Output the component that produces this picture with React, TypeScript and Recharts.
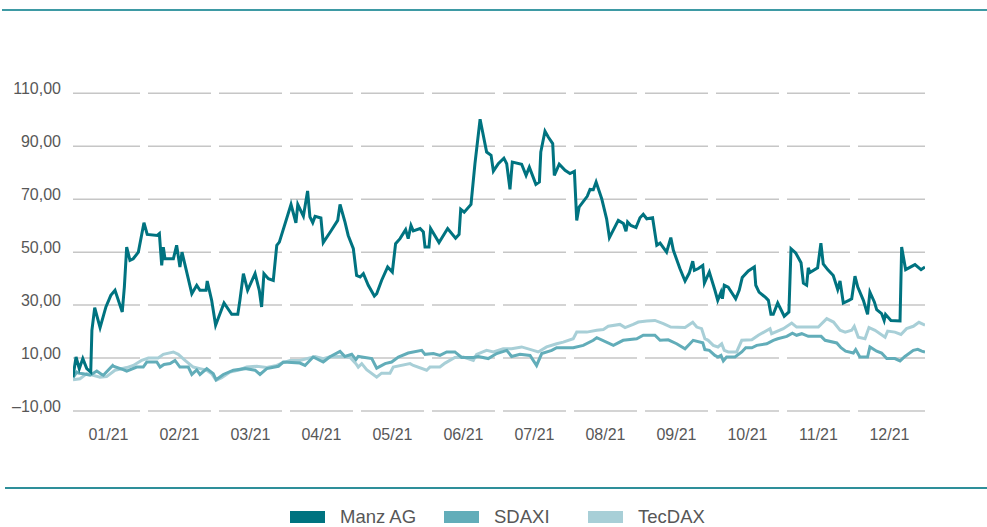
import React from 'react';
import { LineChart, Line, XAxis, YAxis, CartesianGrid } from 'recharts';

// ---- data ----
const monthLabels = ['01/21', '02/21', '03/21', '04/21', '05/21', '06/21', '07/21', '08/21', '09/21', '10/21', '11/21', '12/21'];
const yTicks = [-10, 10, 30, 50, 70, 90, 110];

// day of year (0..365) and indexed performance value
const manzDays = [0, 1.3, 2.7, 4.2, 5.9, 7.6, 8.1, 9.3, 11.6, 14.1, 16.2, 18.0, 21.1, 22.0, 23.0, 24.4, 25.8, 28.0, 30.4, 31.8, 36.1, 37.0, 38.0, 38.7, 39.4, 43.0, 44.4, 45.8, 46.7, 50.9, 53.0, 54.4, 57.0, 57.5, 59.4, 61.1, 64.7, 68.0, 70.6, 71.5, 73.0, 74.8, 78.0, 79.8, 80.8, 81.8, 83.7, 85.8, 87.3, 88.4, 93.4, 95.5, 96.3, 98.7, 100.5, 101.5, 102.7, 103.7, 106.2, 107.2, 110.5, 113.4, 114.4, 116.5, 117.9, 120.1, 121.5, 123.0, 124.4, 126.5, 129.1, 130.1, 132.2, 134.8, 136.8, 138.2, 140.1, 142.5, 143.6, 144.8, 145.8, 148.7, 150.1, 150.8, 152.5, 153.2, 156.8, 160.5, 163.9, 165.4, 166.1, 167.6, 170.5, 172.2, 174.4, 177.2, 179.1, 180.1, 182.2, 184.6, 185.8, 187.2, 188.2, 192.2, 194.1, 195.5, 198.3, 199.8, 200.4, 202.2, 203.6, 205.5, 206.2, 208.3, 210.8, 212.9, 214.8, 215.8, 216.8, 220.3, 221.5, 222.9, 224.1, 226.5, 228.6, 229.8, 233.6, 235.8, 236.9, 237.6, 239.0, 241.2, 242.9, 244.3, 245.8, 248.3, 250.1, 251.5, 254.3, 256.1, 257.2, 260.0, 262.2, 264.0, 265.5, 266.2, 267.9, 269.8, 270.5, 272.6, 275.0, 276.2, 277.6, 278.2, 279.0, 280.7, 283.9, 285.4, 286.7, 289.3, 291.9, 292.5, 293.9, 296.8, 297.9, 299.0, 300.0, 301.9, 304.7, 306.7, 307.6, 309.6, 311.9, 312.9, 314.3, 315.0, 315.7, 319.0, 320.4, 321.4, 323.3, 325.7, 327.6, 328.6, 330.0, 332.4, 333.6, 335.0, 336.2, 338.6, 340.4, 341.4, 343.3, 344.3, 346.4, 347.5, 348.1, 350.4, 354.3, 355.0, 356.7, 360.7, 363.3, 365.0];
const manzValues = [2.8, 10.4, 6, 9.8, 6, 4.7, 20.5, 29, 21.5, 29.3, 33.7, 35.6, 27.4, 36.8, 51.9, 46.9, 47.5, 50, 61.1, 56.7, 56.3, 57, 45, 51.9, 47.5, 47.5, 52.6, 44.4, 50, 34.3, 37.5, 35.6, 35.6, 39.1, 31.8, 22.4, 30.8, 26.5, 26.5, 31.8, 41.9, 35.6, 41.9, 35.6, 29.3, 41.9, 40, 39.3, 52.6, 53.8, 68, 61.1, 68, 63.6, 73.1, 63.3, 61.1, 63.5, 62.9, 53.6, 58, 62, 68, 61.4, 56.3, 51.3, 41.2, 40.6, 41.9, 37.5, 33.4, 34.3, 39.3, 44.4, 42.5, 53.2, 55.1, 58.5, 55.1, 60.1, 58, 58.9, 57.6, 51.9, 51.9, 58.9, 53.6, 58.9, 55.3, 56.7, 66.2, 65.1, 68, 83.4, 100.2, 87.8, 86.6, 80.6, 83.4, 85.5, 83.4, 73.7, 84, 83.2, 79, 82.1, 75.6, 76.5, 87.8, 95.7, 93.5, 91, 79, 83.2, 80.9, 79.7, 80.5, 62, 67, 71.1, 73.7, 73.6, 76.5, 70.2, 62.6, 55.5, 62, 60.8, 57.9, 61.4, 60.1, 59.3, 63, 64.3, 62.6, 63, 52.6, 53.4, 50, 55.5, 50.7, 43.8, 39.1, 42.1, 46.6, 43.1, 43.8, 45, 38.3, 42.5, 35.6, 31.8, 34.9, 32.4, 37.5, 36.8, 32.4, 35.6, 40.4, 42.9, 44.4, 37.5, 34.9, 32.8, 31.8, 26.5, 26.5, 30.8, 25.8, 27.4, 51.3, 49.7, 46, 38.3, 37.5, 44.1, 42.3, 44.1, 53.4, 45.6, 43.4, 41.2, 35.9, 39.1, 30.8, 31.8, 32.4, 40.9, 36.8, 31.8, 26.5, 34.9, 31.2, 28.3, 26.8, 24.2, 26.5, 24.2, 24, 51.9, 43.4, 45.3, 43.4, 44.4];

const sdaxDays = [0, 1.6, 2.3, 4.4, 7.3, 10.2, 12.3, 13.0, 17.0, 17.3, 21.5, 23.0, 27.3, 30.1, 31.6, 35.9, 37.3, 39.0, 41.6, 43.7, 45.8, 49.4, 50.9, 53.0, 54.4, 57.3, 60.1, 61.3, 64.4, 68.7, 73.7, 78.0, 80.1, 83.0, 88.0, 90.1, 97.2, 99.4, 102.9, 107.2, 110.1, 114.4, 116.5, 119.4, 121.2, 122.2, 128.0, 130.1, 133.7, 136.5, 139.4, 143.6, 149.4, 150.8, 154.4, 157.2, 160.1, 163.6, 166.5, 171.5, 173.6, 177.9, 181.5, 185.8, 187.9, 191.5, 195.8, 198.6, 200.8, 205.1, 207.2, 214.3, 218.6, 222.9, 224.4, 231.5, 235.7, 241.5, 244.3, 249.3, 251.5, 255.0, 258.6, 262.2, 265.7, 269.8, 270.7, 272.6, 275.0, 276.3, 277.6, 278.6, 280.0, 283.6, 286.5, 288.2, 290.8, 292.9, 297.2, 300.0, 301.9, 305.8, 308.2, 310.0, 312.2, 315.0, 320.5, 322.2, 327.2, 329.0, 331.0, 334.3, 335.3, 337.1, 340.4, 341.4, 344.3, 346.4, 348.6, 352.1, 354.3, 356.4, 360.0, 361.9, 363.6, 365.0];
const sdaxValues = [2.6, 4.7, 4.3, 4.1, 3.5, 5.1, 3.8, 3.5, 7.2, 6.9, 5.6, 5.1, 6.6, 6.6, 8.5, 8.5, 6.6, 7.6, 7.9, 9.1, 6.6, 6.6, 3.8, 5.5, 3.8, 6, 4.1, 1.8, 3.8, 5.4, 6, 5.4, 3.8, 6, 6.9, 8.5, 8.1, 7.2, 10.4, 8.5, 10.5, 12.5, 10.6, 11.4, 9.4, 10.6, 9.8, 6.2, 7.9, 8.5, 10.4, 11.9, 12.9, 11.4, 11.7, 11, 12.3, 12.3, 10.2, 10.2, 10.6, 9.8, 11.7, 12.9, 10.6, 11.4, 11, 7.2, 11.7, 12.9, 13.9, 13.9, 14.8, 16.7, 17.7, 14.8, 16.7, 17.3, 18.6, 18.6, 16.7, 16.9, 15.4, 13.5, 16.7, 15.8, 13.2, 12.9, 11, 10.4, 11, 8.9, 10.4, 10.4, 12.3, 13.9, 13.9, 14.8, 15.4, 16.7, 17.3, 18.2, 19.4, 18.6, 19.2, 18.2, 18.2, 16.7, 15.7, 13.9, 12.6, 11.9, 13.2, 10.4, 10.4, 14.2, 12.6, 11.9, 9.8, 9.8, 8.9, 10.6, 12.9, 13.3, 12.6, 12.3];

const tecDays = [0, 3.0, 5.9, 11.6, 14.4, 18.0, 23.0, 25.8, 29.4, 32.3, 36.5, 38.7, 43.0, 45.1, 48.0, 51.5, 54.4, 57.3, 59.4, 61.3, 63.7, 67.3, 71.5, 74.4, 78.7, 83.0, 87.3, 89.4, 93.0, 97.2, 103.7, 107.2, 110.1, 115.8, 118.7, 121.2, 122.2, 123.7, 125.8, 130.1, 132.2, 135.8, 137.2, 144.4, 145.8, 151.5, 152.9, 157.2, 159.4, 163.6, 167.2, 171.5, 172.9, 177.2, 180.1, 184.3, 187.9, 192.2, 197.2, 199.3, 202.9, 207.2, 210.0, 214.3, 215.8, 220.1, 224.4, 227.2, 229.3, 234.3, 236.5, 240.0, 242.2, 245.8, 249.3, 252.9, 256.1, 262.2, 265.5, 267.2, 269.3, 270.7, 272.1, 274.3, 276.3, 277.9, 279.0, 280.7, 284.3, 286.5, 290.8, 293.6, 298.6, 299.3, 304.3, 307.9, 310.0, 319.3, 322.9, 325.8, 328.6, 330.8, 333.6, 334.7, 336.4, 339.3, 341.0, 343.6, 347.9, 349.0, 352.1, 354.7, 357.1, 360.0, 362.4, 365.0];
const tecValues = [1.8, 2.2, 4.1, 2.8, 3, 5.4, 6.4, 7.2, 9.1, 10, 10, 11.4, 12.3, 11.4, 9.1, 6.6, 6, 5.4, 4.1, 1.6, 2.6, 4.7, 5.6, 6.6, 6.9, 6.4, 7.2, 8.1, 9.1, 9.1, 10.6, 9.8, 10.5, 10.6, 10.2, 7.9, 6.6, 7.9, 5.6, 2.8, 4.3, 4.3, 6.6, 7.9, 7.2, 5.4, 6.6, 6.6, 8.1, 10.2, 10.4, 9.1, 11.4, 12.9, 12.3, 13.5, 13.5, 14.2, 12.9, 12.3, 14.2, 15.4, 16, 17.3, 19.8, 19.8, 20.5, 20.8, 22, 22.7, 21.5, 22.7, 23.6, 24, 24.2, 23, 21.7, 21.5, 23.5, 21.7, 21.1, 17.3, 16.7, 14.8, 14.2, 15.4, 12.9, 12.3, 12.3, 16.7, 16.9, 18.6, 21.1, 19.2, 21.1, 23.2, 21.7, 21.7, 24.9, 23.6, 20.5, 19.8, 20.5, 22, 17.9, 17.3, 21.5, 20.5, 17.9, 20.2, 19.8, 18.9, 21.1, 22, 23.5, 22.4];

const seriesNames = ['Manz AG', 'SDAXI', 'TecDAX'];
const seriesColors = ['#007380', '#62adb9', '#a8cfd7'];

// ---- helpers ----
const YEAR_DAYS = 365;
const toRows = (days: number[], values: number[]) => days.map((d, i) => ({ d, v: values[i] }));
const manzRows = toRows(manzDays, manzValues);
const sdaxRows = toRows(sdaxDays, sdaxValues);
const tecRows = toRows(tecDays, tecValues);
const monthTicks = monthLabels.map((_, i) => ((i + 0.5) * YEAR_DAYS) / 12);

const FONT = '"Liberation Sans", Arial, Helvetica, sans-serif';
const TEXT = '#575757';

const fmt = (v: number) => (v < 0 ? '\u2013' : '') + Math.abs(v).toFixed(2).replace('.', ',');

const LeftTick = (p: any) => (
  <text x={p.x} y={p.y} dy={0.5} textAnchor="end" fill={TEXT} fontSize={16} fontFamily={FONT}>
    {fmt(p.payload.value)}
  </text>
);
const RightTick = (p: any) => (
  <text x={p.x} y={p.y} dy={0.5} textAnchor="start" fill={TEXT} fontSize={16} fontFamily={FONT}>
    {fmt(p.payload.value)}
  </text>
);
const XTick = (p: any) => {
  const idx = Math.round((p.payload.value * 12) / YEAR_DAYS - 0.5);
  return (
    <text x={p.x} y={p.y} dy={29} textAnchor="middle" fill={TEXT} fontSize={16} fontFamily={FONT}>
      {monthLabels[idx]}
    </text>
  );
};

const gridDash = '67 8 ' + Array(10).fill('63 8').join(' ') + ' 67';

export default function App() {
  const seriesRows = [manzRows, sdaxRows, tecRows];
  const legendLefts = [290, 444, 588];
  return (
    <div style={{ position: 'absolute', left: 0, top: 0, width: 987, height: 527, background: '#fff', fontFamily: FONT }}>
      <div style={{ position: 'absolute', left: 2, top: 9, width: 985, height: 2, background: '#3e9aa4' }} />
      <LineChart width={987} height={527} margin={{ top: 93.3, right: 0, bottom: 76, left: 0 }}>
        <CartesianGrid vertical={false} stroke="#c6c6c6" strokeWidth={1.5} strokeDasharray={gridDash} yAxisId="left" />
        <XAxis
          dataKey="d"
          type="number"
          domain={[0, YEAR_DAYS]}
          ticks={monthTicks}
          interval={0}
          axisLine={false}
          tickLine={false}
          tickSize={0}
          tickMargin={0}
          height={40}
          tick={<XTick />}
          allowDataOverflow
        />
        <YAxis
          yAxisId="left"
          orientation="left"
          domain={[-10, 110]}
          ticks={yTicks}
          interval={0}
          width={73}
          axisLine={false}
          tickLine={false}
          tickSize={0}
          tickMargin={12}
          tick={<LeftTick />}
        />
        <YAxis
          yAxisId="right"
          orientation="right"
          domain={[-10, 110]}
          ticks={yTicks}
          interval={0}
          width={62}
          axisLine={false}
          tickLine={false}
          tickSize={0}
          tickMargin={12}
          tick={<RightTick />}
        />
        {[2, 1, 0].map((i) => (
          <Line
            key={seriesNames[i]}
            yAxisId="left"
            data={seriesRows[i]}
            dataKey="v"
            name={seriesNames[i]}
            stroke={seriesColors[i]}
            strokeWidth={3}
            dot={false}
            activeDot={false}
            isAnimationActive={false}
          />
        ))}
      </LineChart>
      <div style={{ position: 'absolute', left: 5, top: 487, width: 982, height: 1.5, background: '#2e8f9a' }} />
      {seriesNames.map((name, i) => (
        <div
          key={name}
          style={{ position: 'absolute', left: legendLefts[i], top: 505, height: 24, display: 'flex', alignItems: 'center' }}
        >
          <div style={{ width: 35, height: 12, background: seriesColors[i], marginRight: 15 }} />
          <span style={{ fontSize: 18.5, color: TEXT, fontFamily: FONT, lineHeight: '24px', whiteSpace: 'nowrap' }}>{name}</span>
        </div>
      ))}
    </div>
  );
}
